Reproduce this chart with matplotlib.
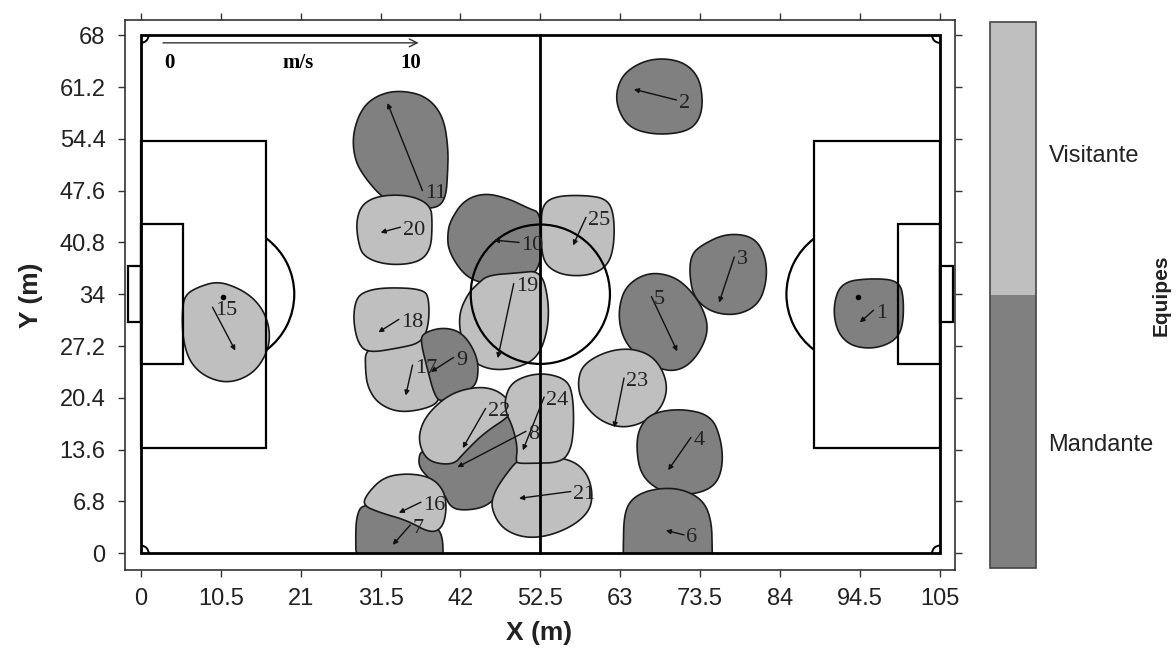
import numpy as np
import matplotlib
matplotlib.use("Agg")
import matplotlib.pyplot as plt
from matplotlib.patches import Polygon, Rectangle, Circle, Arc
from matplotlib.colors import ListedColormap, Normalize
from matplotlib.cm import ScalarMappable

# ---------------- data ----------------
players = [1, 2, 3, 4, 5, 6, 7, 8, 9, 10, 11,
           15, 16, 17, 18, 19, 20, 21, 22, 23, 24, 25]
teams = ["Mandante"] * 11 + ["Visitante"] * 11
pos_x = [96.3, 70.4, 78.0, 72.3, 67.1, 71.4, 35.4, 50.6, 41.1, 49.7, 37.0,
         9.4, 36.8, 35.7, 33.9, 49.0, 34.1, 56.5, 45.3, 63.5, 53.0, 58.5]
pos_y = [31.9, 59.5, 38.9, 15.2, 33.7, 2.4, 3.7, 16.0, 25.7, 40.8, 47.6,
         32.3, 6.7, 24.7, 30.7, 35.4, 42.8, 8.1, 19.0, 23.0, 20.5, 44.1]
head_x = [94.5, 64.8, 76.0, 69.3, 70.5, 69.0, 33.1, 41.6, 38.1, 46.4, 32.4,
          12.4, 33.9, 34.8, 31.2, 46.9, 31.5, 49.7, 42.3, 62.2, 50.2, 56.8]
head_y = [30.3, 60.9, 32.9, 10.9, 26.5, 3.0, 1.1, 11.3, 23.8, 41.1, 59.1,
          26.6, 5.3, 20.7, 29.0, 25.6, 42.1, 7.2, 13.8, 16.5, 13.5, 40.4]
ball_x = [94.2, 10.8]
ball_y = [33.7, 33.7]

# region outlines (x, y in metres); shared borders slightly tuck under the neighbour drawn later
region_1 = [(92.1, 35.6), (96.0, 36.1), (99.7, 35.8), (100.3, 33.2), (100.1, 29.3),
            (98.7, 27.6), (96.0, 26.8), (93.1, 27.3), (91.4, 29.3), (91.0, 32.6)]
region_2 = [(63.8, 63.4), (67.1, 65.0), (71.0, 64.7), (73.3, 62.7), (73.9, 59.4),
            (73.4, 56.8), (71.7, 55.3), (67.7, 54.9), (64.2, 55.8), (62.6, 58.4), (62.5, 61.0)]
region_3 = [(73.6, 40.4), (76.9, 42.0), (80.5, 41.6), (82.1, 39.1), (82.3, 35.8),
            (81.2, 32.6), (78.3, 31.2), (75.0, 31.6), (72.7, 33.5), (72.1, 36.5), (72.3, 39.1)]
region_4 = [(67.1, 18.4), (71.0, 19.0), (75.0, 18.1), (76.3, 14.8), (76.5, 11.3),
            (75.4, 8.7), (72.3, 7.6), (68.4, 8.0), (65.7, 10.2), (65.1, 13.9), (65.5, 16.5)]
region_5 = [(66.7, 36.9), (70.0, 36.4), (72.3, 34.5), (74.0, 31.9), (74.6, 29.3),
            (73.6, 26.6), (71.7, 24.4), (69.3, 23.8), (66.4, 25.1), (64.2, 26.9),
            (63.0, 29.3), (62.8, 32.3), (63.8, 35.2)]
region_6 = [(63.5, 5.3), (64.7, 7.4), (67.5, 8.5), (71.0, 8.5), (73.9, 7.0), (75.0, 4.3),
            (75.1, 0.5), (75.1, -2.0), (63.4, -2.0), (63.4, 0.5)]
region_7 = [(29.1, 6.3), (31.5, 6.3), (35.0, 5.4), (38.3, 3.6), (39.7, 2.6),
            (39.7, -2.0), (28.3, -2.0), (28.2, 3.4), (28.5, 5.3)]
region_8 = [(47.6, 18.6), (49.8, 16.5), (50.3, 13.9), (50.0, 11.8), (48.5, 10.0),
            (46.8, 7.4), (45.1, 6.0), (42.4, 5.6), (40.7, 6.0), (39.8, 7.9), (38.1, 9.6),
            (36.5, 11.3), (36.6, 13.1), (37.2, 13.4), (38.6, 13.0), (41.6, 13.2), (45.1, 16.6)]
region_9 = [(37.0, 28.9), (39.8, 29.7), (42.4, 28.9), (44.3, 25.7), (44.3, 22.7),
            (43.3, 21.4), (39.4, 19.7), (38.5, 21.0), (37.7, 24.0), (36.8, 27.6)]
region_10 = [(40.7, 43.7), (42.4, 46.3), (45.1, 47.3), (48.2, 46.6), (50.9, 45.3),
             (52.7, 44.6), (52.7, 37.2), (49.5, 35.6), (45.6, 35.4), (43.7, 35.8),
             (42.0, 37.1), (40.4, 39.8), (40.3, 42.0)]
region_11 = [(33.7, 60.8), (37.4, 60.1), (39.7, 57.5), (40.4, 53.3), (40.3, 49.6),
             (40.1, 47.0), (39.4, 45.7), (38.3, 45.3), (36.8, 45.3), (34.1, 45.8),
             (31.9, 46.5), (29.5, 49.2), (28.1, 51.6), (27.8, 54.9), (28.9, 58.2), (30.8, 60.0)]
region_15 = [(7.4, 34.9), (10.0, 35.7), (12.6, 34.9), (14.8, 33.5), (16.3, 31.5),
             (17.0, 28.9), (16.6, 26.3), (14.8, 23.6), (11.7, 22.3), (8.7, 23.0),
             (6.5, 24.9), (5.5, 28.0), (5.4, 31.9), (5.8, 33.9)]
region_16 = [(29.8, 7.9), (31.9, 10.0), (35.0, 10.5), (38.1, 10.0), (39.8, 8.3),
             (40.2, 6.0), (39.7, 3.4), (38.1, 2.6), (35.0, 4.3), (31.5, 5.3), (29.1, 6.3)]
region_17 = [(29.5, 27.0), (33.7, 28.0), (37.3, 28.6), (38.6, 24.0), (39.3, 21.5),
             (39.1, 19.7), (36.8, 18.8), (33.7, 18.5), (31.1, 19.7), (29.8, 21.8), (29.5, 24.0)]
region_18 = [(29.2, 34.3), (31.9, 34.9), (37.2, 34.7), (37.9, 33.2), (37.8, 29.7),
             (36.8, 27.6), (33.7, 26.9), (29.8, 26.3), (28.5, 27.6), (27.9, 30.6), (28.2, 33.2)]
region_19 = [(44.3, 35.4), (45.6, 36.5), (49.5, 36.8), (52.6, 37.1), (53.6, 33.2),
             (53.5, 29.3), (52.2, 25.7), (49.5, 24.3), (46.0, 24.0), (43.3, 25.3),
             (42.0, 28.4), (41.8, 31.5), (43.0, 34.1)]
region_20 = [(29.1, 45.9), (31.5, 47.0), (35.4, 47.0), (38.1, 45.7), (38.3, 43.3),
             (38.1, 39.8), (36.4, 38.1), (32.4, 37.8), (29.2, 38.9), (28.5, 41.1), (28.3, 43.7)]
region_21 = [(47.7, 10.0), (49.8, 12.6), (53.0, 12.8), (55.0, 12.6), (57.4, 11.8), (58.9, 10.0),
             (59.4, 7.4), (58.8, 5.3), (56.5, 3.4), (53.0, 2.1), (49.9, 2.1),
             (47.3, 3.4), (46.0, 6.0), (46.4, 7.9)]
region_22 = [(37.7, 18.4), (40.7, 21.0), (44.3, 21.9), (46.9, 21.4), (48.7, 19.7),
             (48.8, 18.2), (45.1, 15.8), (42.4, 13.1), (41.1, 11.6), (38.1, 11.9),
             (36.8, 13.5), (36.5, 15.8)]
region_23 = [(58.2, 24.9), (61.4, 26.6), (64.8, 26.9), (67.7, 25.6), (69.3, 22.3),
             (68.6, 19.2), (66.1, 17.1), (63.1, 16.4), (60.1, 17.5), (57.8, 20.1), (57.4, 22.7)]
region_24 = [(48.6, 22.3), (50.9, 23.4), (53.5, 23.6), (56.1, 22.7), (56.8, 20.5),
             (56.9, 16.5), (56.5, 13.5), (55.2, 11.9), (51.3, 11.8), (49.5, 11.8),
             (49.3, 12.2), (49.5, 13.9), (48.9, 16.5), (48.0, 18.4), (47.8, 20.1)]
region_25 = [(52.7, 45.7), (54.5, 46.9), (58.5, 47.0), (61.3, 46.5), (62.2, 44.4),
             (62.2, 40.4), (61.4, 37.8), (59.2, 36.5), (55.9, 36.4), (53.6, 37.4),
             (52.7, 39.1), (52.6, 42.4)]

x_ticks = [0, 10.5, 21, 31.5, 42, 52.5, 63, 73.5, 84, 94.5, 105]
y_ticks = [0, 6.8, 13.6, 20.4, 27.2, 34, 40.8, 47.6, 54.4, 61.2, 68]
x_tick_labels = ["0", "10.5", "21", "31.5", "42", "52.5", "63", "73.5", "84", "94.5", "105"]
y_tick_labels = ["0", "6.8", "13.6", "20.4", "27.2", "34", "40.8", "47.6", "54.4", "61.2", "68"]
team_names = ["Mandante", "Visitante"]

# scale arrow (10 m/s)
scale_x0, scale_x1, scale_y = 2.9, 36.5, 67.0

regions = {1: region_1, 2: region_2, 3: region_3, 4: region_4, 5: region_5,
           6: region_6, 7: region_7, 8: region_8, 9: region_9, 10: region_10,
           11: region_11, 15: region_15, 16: region_16, 17: region_17, 18: region_18,
           19: region_19, 20: region_20, 21: region_21, 22: region_22, 23: region_23,
           24: region_24, 25: region_25}

# ---------------- style ----------------
DARK = "#808080"
LIGHT = "#bfbfbf"
team_color = {"Mandante": DARK, "Visitante": LIGHT}


def chaikin(pts, n=3):
    p = np.asarray(pts, dtype=float)
    for _ in range(n):
        nxt = np.roll(p, -1, axis=0)
        q = 0.75 * p + 0.25 * nxt
        r = 0.25 * p + 0.75 * nxt
        out = np.empty((2 * len(p), 2))
        out[0::2] = q
        out[1::2] = r
        p = out
    return p


fig = plt.figure(figsize=(11.76, 6.6), dpi=100)
ax = fig.add_axes([0.1063, 0.1364, 0.7057, 0.8333])
ax.set_xlim(-2.1, 107.0)
ax.set_ylim(-2.2, 70.0)

field_clip = Rectangle((0, 0), 105, 68, transform=ax.transData)

draw_order = [11, 20, 10, 19, 25, 17, 18, 9, 8, 22, 21, 24, 7, 16,
              2, 3, 5, 1, 23, 4, 6, 15]
for p in draw_order:
    i = players.index(p)
    poly = Polygon(chaikin(regions[p]), closed=True,
                   facecolor=team_color[teams[i]], edgecolor="#1a1a1a",
                   linewidth=1.2, zorder=2)
    ax.add_patch(poly)
    poly.set_clip_path(field_clip)

# field markings
LW = 2.0
lc = "black"
fz = 3
ax.add_patch(Rectangle((0, 0), 105, 68, fill=False, lw=LW, ec=lc, zorder=fz))
ax.plot([52.5, 52.5], [0, 68], color=lc, lw=LW, zorder=fz)
ax.add_patch(Circle((52.5, 34), 9.15, fill=False, lw=1.6, ec=lc, zorder=fz))
for x0, w in [(0, 16.5), (105 - 16.5, 16.5)]:
    ax.add_patch(Rectangle((x0, 34 - 20.16), w, 40.32, fill=False, lw=1.6, ec=lc, zorder=fz))
for x0, w in [(0, 5.5), (105 - 5.5, 5.5)]:
    ax.add_patch(Rectangle((x0, 34 - 9.16), w, 18.32, fill=False, lw=1.6, ec=lc, zorder=fz))
ax.add_patch(Rectangle((-1.7, 34 - 3.66), 1.7, 7.32, fill=False, lw=1.6, ec=lc, zorder=fz))
ax.add_patch(Rectangle((105, 34 - 3.66), 1.7, 7.32, fill=False, lw=1.6, ec=lc, zorder=fz))
ang = np.degrees(np.arccos(5.5 / 9.15))
ax.add_patch(Arc((11, 34), 18.3, 18.3, theta1=-ang, theta2=ang, lw=1.6, ec=lc, zorder=fz))
ax.add_patch(Arc((94, 34), 18.3, 18.3, theta1=180 - ang, theta2=180 + ang, lw=1.6, ec=lc, zorder=fz))
for (cx, cy, t1) in [(0, 0, 0), (105, 0, 90), (105, 68, 180), (0, 68, 270)]:
    ax.add_patch(Arc((cx, cy), 2, 2, theta1=t1, theta2=t1 + 90, lw=1.4, ec=lc, zorder=fz))

# velocity arrows and labels
for i, p in enumerate(players):
    ax.annotate("", xy=(head_x[i], head_y[i]), xytext=(pos_x[i], pos_y[i]),
                arrowprops=dict(arrowstyle="-|>", color="#111111", lw=1.0,
                                mutation_scale=7, shrinkA=0, shrinkB=0),
                zorder=4)
    ax.text(pos_x[i] + 0.3, pos_y[i] - 0.4, str(p), family="Liberation Serif",
            fontsize=16, ha="left", va="center", color="#222222", zorder=5)

ax.scatter(ball_x, ball_y, s=9, color="black", zorder=5)

# speed scale
ax.annotate("", xy=(scale_x1, scale_y), xytext=(scale_x0, scale_y),
            arrowprops=dict(arrowstyle="->", color="#333333", lw=1.0,
                            mutation_scale=14, shrinkA=0, shrinkB=0), zorder=5)
ax.text(3.8, 64.4, "0", family="Liberation Serif", weight="bold", fontsize=15,
        ha="center", va="center", zorder=5)
ax.text(20.7, 64.4, "m/s", family="Liberation Serif", weight="bold", fontsize=15,
        ha="center", va="center", zorder=5)
ax.text(35.4, 64.4, "10", family="Liberation Serif", weight="bold", fontsize=15,
        ha="center", va="center", zorder=5)

# axes styling
ax.set_xticks(x_ticks)
ax.set_xticklabels(x_tick_labels)
ax.set_yticks(y_ticks)
ax.set_yticklabels(y_tick_labels)
ax.tick_params(direction="out", length=5, width=1.0, color="#333333",
               top=True, right=True, labelsize=17, labelcolor="#222222")
ax.tick_params(axis="y", pad=9)
ax.tick_params(axis="x", pad=8)
for lab in ax.get_xticklabels() + ax.get_yticklabels():
    lab.set_family("Liberation Sans")
for s in ax.spines.values():
    s.set_color("#333333")
    s.set_linewidth(1.2)

fig.text(0.458, 0.041, "X (m)", family="Liberation Sans", weight="bold",
         fontsize=19, ha="center", va="center", color="#222222")
fig.text(0.026, 0.553, "Y (m)", family="Liberation Sans", weight="bold",
         fontsize=19, ha="center", va="center", rotation=90, color="#222222")

# team colorbar
cax = fig.add_axes([0.842, 0.139, 0.039, 0.827])
cmap = ListedColormap([team_color[t] for t in team_names])
sm = ScalarMappable(norm=Normalize(0, 2), cmap=cmap)
cb = fig.colorbar(sm, cax=cax, ticks=[0.46, 1.52])
cb.ax.set_yticklabels(team_names, family="Liberation Sans", fontsize=17, color="#222222")
cb.ax.tick_params(length=0, pad=9)
cb.outline.set_edgecolor("#444444")
cb.outline.set_linewidth(1.2)
cax.text(3.72, 0.5, "Equipes", transform=cax.transAxes, rotation=90,
         family="Liberation Sans", weight="bold", fontsize=15, color="#222222",
         ha="center", va="center")

fig.savefig("out.png", dpi=100)
